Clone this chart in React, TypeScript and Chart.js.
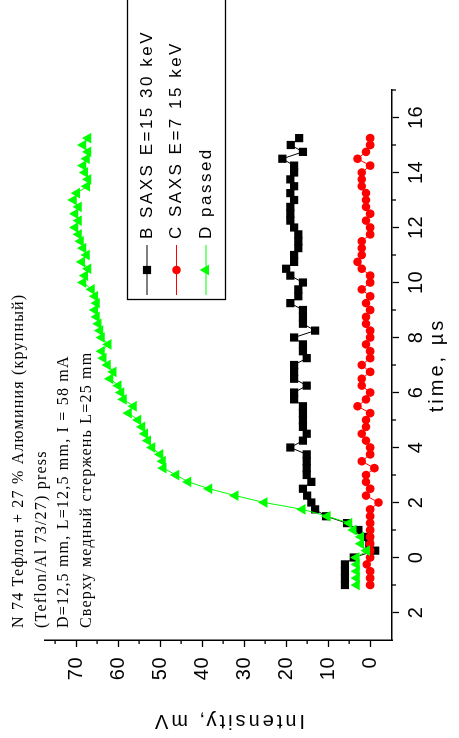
import React, { useEffect, useRef } from 'react';
import { Chart, registerables } from 'chart.js';

Chart.register(...registerables);

// time, µs
const timeUs = [-1, -0.75, -0.5, -0.25, 0, 0.25, 0.5, 0.75, 1, 1.25, 1.5, 1.75, 2, 2.25, 2.5, 2.75, 3, 3.25, 3.5, 3.75, 4, 4.25, 4.5, 4.75, 5, 5.25, 5.5, 5.75, 6, 6.25, 6.5, 6.75, 7, 7.25, 7.5, 7.75, 8, 8.25, 8.5, 8.75, 9, 9.25, 9.5, 9.75, 10, 10.25, 10.5, 10.75, 11, 11.25, 11.5, 11.75, 12, 12.25, 12.5, 12.75, 13, 13.25, 13.5, 13.75, 14, 14.25, 14.5, 14.75, 15, 15.25];

// Intensity, mV
const saxsB = [6.0, 6.0, 6.0, 6.0, 3.9, -1.2, 0.2, 1.0, 2.8, 5.5, 10.5, 13.1, 14.0, 15.0, 16.0, 14.0, 15.1, 15.1, 15.1, 15.1, 19.0, 16.0, 15.1, 16.0, 16.0, 16.0, 16.0, 18.1, 18.1, 15.1, 18.1, 18.1, 18.1, 15.1, 16.0, 16.0, 18.1, 13.1, 16.0, 16.0, 16.0, 19.0, 17.1, 17.1, 16.0, 19.0, 20.0, 18.1, 18.1, 17.1, 17.1, 17.1, 18.1, 19.0, 19.0, 19.0, 18.1, 19.0, 18.1, 19.0, 18.1, 18.1, 20.9, 16.0, 18.9, 16.9];
const saxsC = [0, 0, 0, 0.8, 0, 0, 0, 0, 0, 0, 0, 0, -2.0, 1.0, 0, 1.0, 1.0, -1.0, 2.0, 0, 0, 1.0, 2.0, 1.0, 1.0, 0, 3.0, 1.0, 0, 2.0, 2.0, 0, 2.0, 0, 0, 1.0, 0, 0, 1.0, 1.0, 0, 1.0, 0, 2.0, 0, 0, 2.0, 3.0, 2.0, 2.0, 2.0, 0, 0, 1.0, 0, 1.0, 1.0, 1.0, 2.0, 2.0, 2.0, 0, 3.0, 1.0, 0, 0];
const passedD = [3.2, 3.2, 3.2, 3.2, 3.3, 0.8, 2.2, 2.2, 4.0, 5.0, 10.2, 16.1, 25.2, 32.1, 38.3, 43.3, 46.2, 49.2, 49.4, 50.0, 51.9, 52.9, 53.6, 54.3, 55.2, 57.5, 56.3, 58.7, 59.3, 59.9, 61.9, 61.1, 62.5, 63.5, 63.9, 62.3, 63.9, 64.3, 64.7, 65.1, 65.5, 65.1, 65.5, 66.3, 68.3, 67.9, 67.1, 68.6, 67.5, 68.3, 68.9, 69.4, 70.2, 69.4, 70.2, 69.4, 70.6, 69.8, 67.4, 67.1, 67.9, 68.3, 67.5, 67.1, 68.3, 67.1];

const timeTicks = [-2, 0, 2, 4, 6, 8, 10, 12, 14, 16];
const timeMinorTicks = [-1, 1, 3, 5, 7, 9, 11, 13, 15, 17];
const intensityTicks = [0, 10, 20, 30, 40, 50, 60, 70];
const intensityMinorTicks = [5, 15, 25, 35, 45, 55, 65, 75];

const seriesLabels = ['B SAXS E=15 30 keV', 'C SAXS E=7 15 keV', 'D passed'];
const noteLines = [
  'N 74 Тефлон + 27 % Алюминия (крупный)',
  '(Teflon/Al 73/27) press',
  'D=12,5 mm, L=12,5 mm, I = 58 mA',
  'Сверху медный стержень L=25 mm',
];
const xTitle = 'time, µs';
const yTitle = 'Intensity, mV';

const W = 738;
const H = 459;
const SANS = '"Liberation Sans", Arial, sans-serif';
const SERIF = '"Liberation Serif", "Times New Roman", serif';

const COLORS = ['#000000', '#ff0000', '#00ff00'];
const STYLES = ['rect', 'circle', 'triangle'];
const RADII = [5.8, 4.3, 6.2];

function drawMarker(ctx: CanvasRenderingContext2D, style: string, x: number, y: number, r: number, color: string) {
  ctx.save();
  ctx.fillStyle = color;
  ctx.beginPath();
  if (style === 'rect') {
    const s = Math.SQRT1_2 * r;
    ctx.rect(x - s, y - s, 2 * s, 2 * s);
  } else if (style === 'circle') {
    ctx.arc(x, y, r, 0, Math.PI * 2);
  } else {
    let a = 0;
    ctx.moveTo(x + Math.sin(a) * r, y - Math.cos(a) * r);
    a += (2 * Math.PI) / 3;
    ctx.lineTo(x + Math.sin(a) * r, y - Math.cos(a) * r);
    a += (2 * Math.PI) / 3;
    ctx.lineTo(x + Math.sin(a) * r, y - Math.cos(a) * r);
    ctx.closePath();
  }
  ctx.fill();
  ctx.restore();
}

const decorPlugin = {
  id: 'decor',
  beforeLayout(chart: any) {
    (chart.ctx as any).letterSpacing = '0.5px';
  },
  beforeDraw(chart: any) {
    const ctx = chart.ctx;
    ctx.save();
    ctx.fillStyle = '#ffffff';
    ctx.fillRect(0, 0, chart.width, chart.height);
    ctx.restore();
    (ctx as any).letterSpacing = '0.5px';
  },
  afterDraw(chart: any) {
    const ctx: CanvasRenderingContext2D = chart.ctx;
    const xs = chart.scales.x;
    const ys = chart.scales.y;
    const area = chart.chartArea;
    ctx.save();
    ctx.strokeStyle = '#000';
    ctx.lineWidth = 1.3;
    timeMinorTicks.forEach((v) => {
      const p = xs.getPixelForValue(v);
      ctx.beginPath();
      ctx.moveTo(p, area.bottom);
      ctx.lineTo(p, area.bottom + 4);
      ctx.stroke();
    });
    intensityMinorTicks.forEach((v) => {
      const p = ys.getPixelForValue(v);
      ctx.beginPath();
      ctx.moveTo(area.left, p);
      ctx.lineTo(area.left - 4, p);
      ctx.stroke();
    });

    // axis titles
    ctx.fillStyle = '#000';
    ctx.font = `20px ${SANS}`;
    (ctx as any).letterSpacing = '3px';
    ctx.textAlign = 'center';
    ctx.textBaseline = 'middle';
    ctx.save();
    ctx.translate(17, (area.top + area.bottom) / 2 + 10);
    ctx.rotate(-Math.PI / 2);
    ctx.fillText(yTitle, 0, 0);
    ctx.restore();
    ctx.fillText(xTitle, (area.left + area.right) / 2, 437);

    // legend
    ctx.lineWidth = 1.3;
    ctx.strokeStyle = '#000';
    ctx.strokeRect(438.5, 127.5, 400, 98);
    ctx.font = `17px ${SANS}`;
    (ctx as any).letterSpacing = '2.5px';
    ctx.textAlign = 'left';
    seriesLabels.forEach((label, i) => {
      const v = 147 + 29.5 * i;
      ctx.strokeStyle = COLORS[i];
      ctx.lineWidth = 1;
      ctx.beginPath();
      ctx.moveTo(443, v);
      ctx.lineTo(493, v);
      ctx.stroke();
      drawMarker(ctx, STYLES[i], 468, v, RADII[i], COLORS[i]);
      ctx.fillStyle = '#000';
      ctx.fillText(label, 499, v);
    });

    // notes
    ctx.font = `16px ${SERIF}`;
    (ctx as any).letterSpacing = '1.2px';
    ctx.fillStyle = '#000';
    noteLines.forEach((line, i) => {
      ctx.fillText(line, 110, 19 + 22.6 * i);
    });
    ctx.restore();
  },
};

export default function App() {
  const ref = useRef<HTMLCanvasElement | null>(null);
  useEffect(() => {
    if (!ref.current) return;
    const mk = (vals: number[]) => timeUs.map((t, i) => ({ x: t, y: vals[i] }));
    const series = [saxsB, saxsC, passedD];
    const chart = new Chart(ref.current, {
      type: 'scatter',
      data: {
        datasets: series.map((vals, i) => ({
          label: seriesLabels[i],
          data: mk(vals),
          showLine: true,
          borderColor: COLORS[i],
          backgroundColor: COLORS[i],
          borderWidth: 1,
          pointStyle: STYLES[i] as any,
          pointRadius: RADII[i],
          pointBorderWidth: 0,
          pointBackgroundColor: COLORS[i],
          pointBorderColor: COLORS[i],
          order: 3 - i,
        })),
      },
      options: {
        responsive: false,
        animation: false,
        devicePixelRatio: 1,
        layout: { padding: { top: 45, right: 90, bottom: 0, left: 0 } },
        plugins: { legend: { display: false }, tooltip: { enabled: false } },
        scales: {
          x: {
            type: 'linear',
            position: 'bottom',
            min: -3,
            max: 17,
            afterBuildTicks: (s: any) => {
              s.ticks = timeTicks.map((v) => ({ value: v }));
            },
            afterFit: (s: any) => {
              s.height = 67;
            },
            ticks: {
              autoSkip: false,
              maxRotation: 0,
              padding: 5,
              color: '#000',
              font: { family: SANS, size: 20 },
              callback: (v: any) => String(Math.abs(Number(v))),
            },
            grid: { drawOnChartArea: false, drawTicks: true, tickLength: 7, tickColor: '#000', tickWidth: 1.3 },
            border: { display: true, color: '#000', width: 1.5 },
          },
          y: {
            type: 'linear',
            position: 'left',
            min: -5.2,
            max: 77.4,
            afterBuildTicks: (s: any) => {
              s.ticks = intensityTicks.map((v) => ({ value: v }));
            },
            afterFit: (s: any) => {
              s.width = 98;
            },
            ticks: {
              autoSkip: false,
              padding: 10,
              color: '#000',
              font: { family: SANS, size: 20 },
              callback: (v: any) => String(v),
            },
            grid: { drawOnChartArea: false, drawTicks: true, tickLength: 7, tickColor: '#000', tickWidth: 1.3 },
            border: { display: true, color: '#000', width: 1.5 },
          },
        },
      },
      plugins: [decorPlugin],
    });
    return () => chart.destroy();
  }, []);

  return (
    <div
      style={{
        position: 'fixed',
        left: 0,
        top: 0,
        width: W,
        height: H,
        background: '#fff',
        transformOrigin: '0 0',
        transform: `translate(0px, ${W}px) rotate(-90deg)`,
      }}
    >
      <canvas ref={ref} width={W} height={H} style={{ display: 'block', width: W, height: H }} />
    </div>
  );
}
